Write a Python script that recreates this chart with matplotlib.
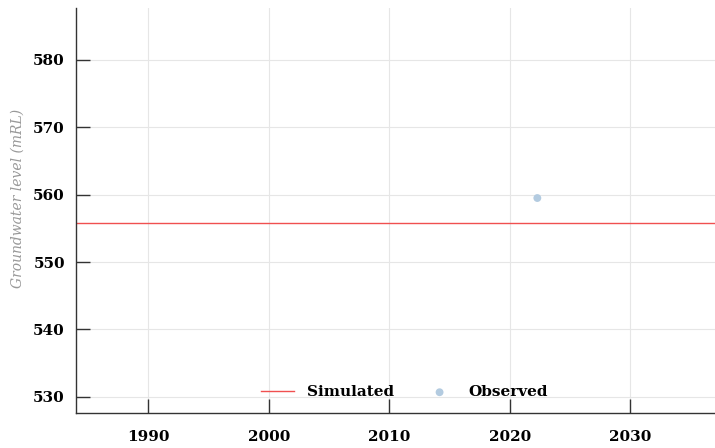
import numpy as np
import matplotlib
matplotlib.use('Agg')
import matplotlib.pyplot as plt

# ----------
# Data
sim_years = [1984.0, 2037.1]
sim_level = [555.8, 555.8]
obs_years = [2022.3]
obs_level = [559.5]

# ----------
plt.rcParams['font.family'] = ['DejaVu Serif']

fig = plt.figure(figsize=(7.15, 4.48), dpi=100)
ax = fig.add_axes([76 / 715, (448 - 413) / 448, (715 - 76) / 715, (413 - 8) / 448])

ax.plot(sim_years, sim_level, color='#f05050', lw=1.0, label='Simulated')
ax.scatter(obs_years, obs_level, s=32, color='#b3cbe0', edgecolors='none',
           label='Observed', zorder=3)

ax.set_xlim(1984.0, 2037.05)
ax.set_ylim(527.6, 587.7)
ax.set_xticks([1990, 2000, 2010, 2020, 2030])
ax.set_yticks([530, 540, 550, 560, 570, 580])

ax.grid(True, color='#e6e6e6', lw=0.8)
ax.set_axisbelow(True)

for s in ['top', 'right']:
    ax.spines[s].set_visible(False)
for s in ['left', 'bottom']:
    ax.spines[s].set_color('#333333')
    ax.spines[s].set_linewidth(1.0)

ax.tick_params(direction='in', length=10, width=1, color='#333333',
               labelsize=11, pad=8)
ax.tick_params(axis='x', pad=12)
for label in ax.get_xticklabels() + ax.get_yticklabels():
    label.set_fontweight('bold')

ax.set_ylabel('Groundwater level (mRL)', fontsize=10, style='italic',
              color='#999999')
ax.yaxis.set_label_coords(-0.081, 0.53)

leg = ax.legend(loc='lower center', bbox_to_anchor=(0.514, 0.0), ncol=2,
                frameon=False, handlelength=2.2, handletextpad=0.8,
                columnspacing=1.9, prop={'weight': 'bold', 'size': 11})

fig.savefig('out.png', dpi=100)
